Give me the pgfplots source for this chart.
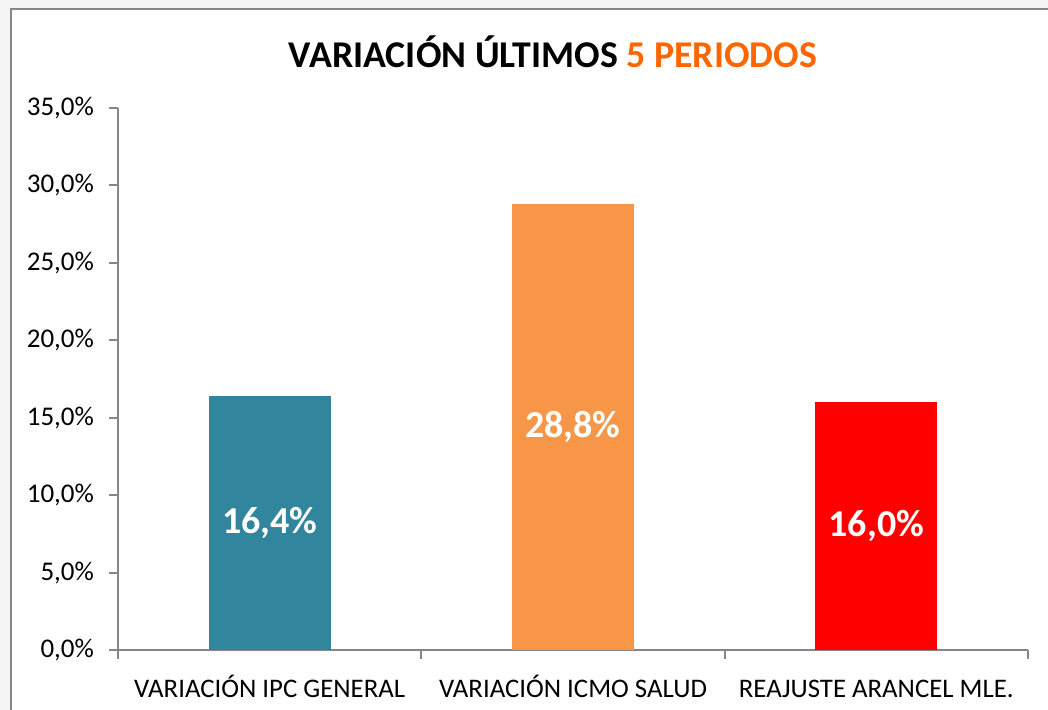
\documentclass[border=0pt]{standalone}
\usepackage{pgfplots}
\pgfplotsset{compat=1.18}
\usepackage{fontspec}
\setmainfont{Carlito}
\definecolor{c1}{HTML}{31859C}
\definecolor{c2}{HTML}{F79646}
\definecolor{c3}{HTML}{FF0000}
\definecolor{axgray}{HTML}{868686}
\definecolor{ttlorange}{HTML}{FF6600}
\begin{document}
\begin{tikzpicture}
\useasboundingbox (0,0) rectangle (524pt,-355pt);
\fill[black!4] (0,0) rectangle (524pt,-355pt);
\fill[white] (5.5pt,-4.5pt) rectangle (530pt,-360pt);
\draw[axgray, line width=1pt] (5.5pt,-360pt) -- (5.5pt,-4.5pt) -- (530pt,-4.5pt);
\node[font=\fontsize{18.9}{22}\selectfont\bfseries] at (276.5pt,-26pt) {VARIACIÓN ÚLTIMOS \textcolor{ttlorange}{5 PERIODOS}};
\begin{axis}[
  at={(59pt,-325pt)}, anchor=south west,
  scale only axis, width=455pt, height=271pt,
  xmin=-0.5, xmax=2.5, ymin=0, ymax=35,
  axis x line*=bottom, axis y line*=left,
  axis line style={axgray, line width=1pt},
  ybar, bar width=61pt, bar shift=0pt,
  xtick={-0.5,0.5,1.5,2.5}, xticklabels={{},{},{},{}},
  extra x ticks={0,1,2},
  extra x tick labels={VARIACIÓN IPC GENERAL, VARIACIÓN ICMO SALUD, REAJUSTE ARANCEL MLE.},
  extra x tick style={major tick length=0pt, xticklabel style={yshift=-8pt, text height=12pt, text depth=3pt, font=\fontsize{13.4}{15}\selectfont}},
  ytick={0,5,...,35},
  tick align=outside,
  major tick length=4.5pt,
  tick style={axgray, line width=1pt},
  yticklabel={\pgfmathprintnumber[fixed,fixed zerofill,precision=1,use comma]{\tick}\%},
  /pgf/number format/assume math mode=true,
  ticklabel style={font=\fontsize{13.5}{15}\selectfont, text=black},
  yticklabel style={xshift=-4pt},
  nodes near coords={\pgfmathprintnumber[fixed,fixed zerofill,precision=1,use comma]{\pgfplotspointmeta}\%},
  visualization depends on={rawy \as \rawy},
  every node near coord/.append style={font=\fontsize{19}{22}\selectfont\bfseries, text=white, anchor=center, yshift=-\rawy*3.8714pt},
]
\addplot[fill=c1, draw=none, bar shift=0pt] coordinates {(0,16.4)};
\addplot[fill=c2, draw=none, bar shift=0pt] coordinates {(1,28.8)};
\addplot[fill=c3, draw=none, bar shift=0pt] coordinates {(2,16.0)};
\end{axis}
\end{tikzpicture}
\end{document}
